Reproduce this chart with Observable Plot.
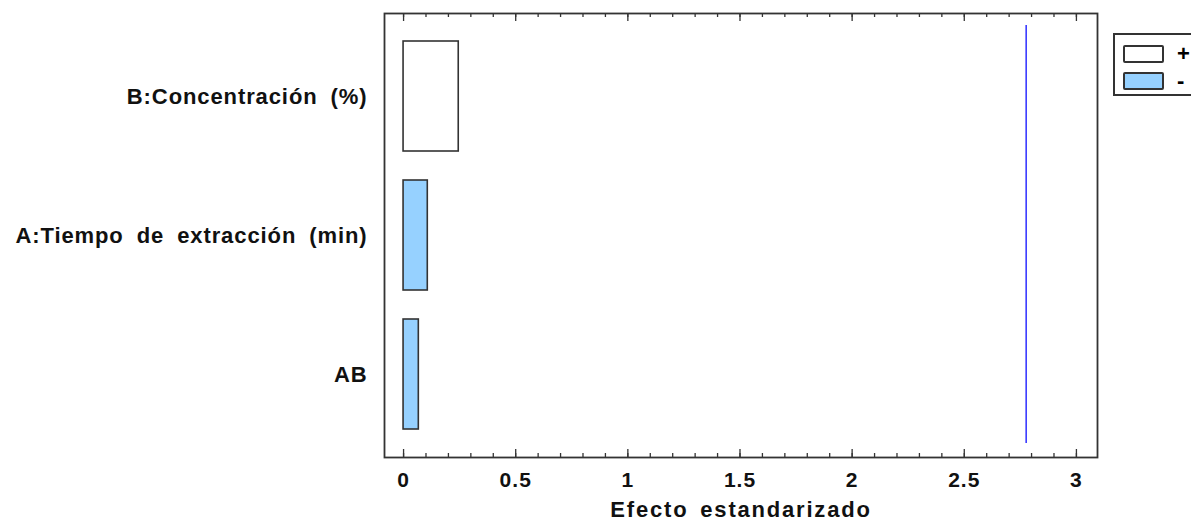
<!DOCTYPE html>
<html>
<head>
<meta charset="utf-8">
<script src="https://cdn.jsdelivr.net/npm/d3@7"></script>
<script src="https://cdn.jsdelivr.net/npm/@observablehq/plot@0.6"></script>
<style>
  html, body { margin: 0; padding: 0; background: #fff; }
  #wrap { position: relative; width: 1191px; height: 521px; overflow: hidden; }
  svg text { letter-spacing: 1px; }
  svg g[aria-label="y-axis tick label"] text { letter-spacing: 0.9px; word-spacing: 6px; }
  svg g.xlabel text { letter-spacing: 1.8px; word-spacing: 4px; }
  #legend { position: absolute; left: 1113px; top: 33px; width: 110px; height: 63px;
            border: 2px solid #333; box-sizing: border-box; background: #fff;
            font-family: "Liberation Sans", Arial, sans-serif; font-weight: bold; font-size: 22px; }
  .item { position: absolute; left: 8px; display: flex; align-items: center; }
  .sw { width: 41px; height: 18px; border: 2px solid #333; box-sizing: border-box; border-radius: 2px; }
  .lab { margin-left: 13px; line-height: 18px; }
</style>
</head>
<body>
<div id="wrap"></div>
<script>
// Data
const factors = ["B:Concentración (%)", "A:Tiempo de extracción (min)", "AB"];
const effects = [0.246, 0.108, 0.068];
const signs = ["+", "-", "-"];
const criticalValue = 2.776;
const majorTicks = [0, 0.5, 1, 1.5, 2, 2.5, 3];
const minorTicks = d3.range(0, 31).map(i => i / 10);
const legendSigns = ["+", "-"];
const signColors = ["#ffffff", "#96d1ff"];
const xLabel = "Efecto estandarizado";

const rows = factors.map((f, i) => ({factor: f, effect: effects[i], sign: signs[i]}));
const font = "Liberation Sans, Arial, sans-serif";
const innerH = 521 - 13 - 64;

const chart = Plot.plot({
  width: 1191,
  height: 521,
  marginLeft: 384,
  marginRight: 94,
  marginTop: 13,
  marginBottom: 64,
  style: {fontFamily: font, background: "#fff", color: "#111"},
  x: {domain: [-0.085, 3.094]},
  y: {domain: factors, paddingInner: 0.207, paddingOuter: 0.19},
  color: {domain: legendSigns, range: signColors},
  marks: [
    Plot.barX(rows, {x1: 0, x2: "effect", y: "factor", fill: "sign", stroke: "#333", strokeWidth: 1.6}),
    Plot.ruleX([criticalValue], {stroke: "#3b3bff", strokeWidth: 1.6, insetTop: 12, insetBottom: 14}),
    // minor ticks bottom / top
    Plot.ruleX(minorTicks, {x: d => d, stroke: "#333", strokeWidth: 1.3, insetTop: innerH - 4}),
    Plot.ruleX(minorTicks, {x: d => d, stroke: "#333", strokeWidth: 1.3, insetBottom: innerH - 4}),
    // major ticks bottom / top
    Plot.ruleX(majorTicks, {x: d => d, stroke: "#333", strokeWidth: 1.3, insetTop: innerH - 8}),
    Plot.ruleX(majorTicks, {x: d => d, stroke: "#333", strokeWidth: 1.3, insetBottom: innerH - 8}),
    Plot.frame({stroke: "#333", strokeWidth: 1.8}),
    Plot.axisX({anchor: "bottom", ticks: majorTicks, tickSize: 0, tickPadding: 15,
      tickFormat: d => String(d), fontSize: 21, fontWeight: "bold", label: null, fill: "#111"}),
    Plot.axisY({anchor: "left", tickSize: 0, tickPadding: 17, fontSize: 22, fontWeight: "bold",
      label: null, fill: "#111"}),
    Plot.text([xLabel], {frameAnchor: "bottom", dy: 52, lineAnchor: "middle", fontSize: 22,
      fontWeight: "bold", fill: "#111", text: d => d, className: "xlabel"})
  ]
});
const wrap = document.getElementById("wrap");
wrap.appendChild(chart);

const legend = document.createElement("div");
legend.id = "legend";
legendSigns.forEach((s, i) => {
  const item = document.createElement("div");
  item.className = "item";
  item.style.top = (10 + i * 27) + "px";
  const sw = document.createElement("div");
  sw.className = "sw";
  sw.style.background = signColors[i];
  const lab = document.createElement("span");
  lab.className = "lab";
  lab.textContent = s;
  item.appendChild(sw);
  item.appendChild(lab);
  legend.appendChild(item);
});
wrap.appendChild(legend);
</script>
</body>
</html>
